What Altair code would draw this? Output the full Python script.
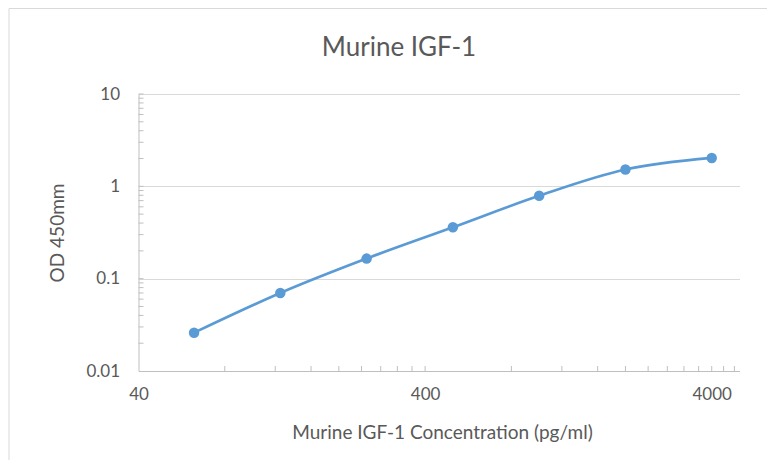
import altair as alt
import pandas as pd

# Data
conc = [62.5, 125, 250, 500, 1000, 2000, 4000]
od = [0.026, 0.070, 0.165, 0.36, 0.79, 1.52, 2.03]

x_major = [40, 400, 4000]
y_major = [0.01, 0.1, 1, 10]
x_minor = [80, 120, 160, 200, 240, 280, 320, 360, 400,
           800, 1200, 1600, 2000, 2400, 2800, 3200, 3600, 4000, 4400, 4800]
y_minor = [0.02, 0.03, 0.04, 0.05, 0.06, 0.07, 0.08, 0.09, 0.1,
           0.2, 0.3, 0.4, 0.5, 0.6, 0.7, 0.8, 0.9, 1,
           2, 3, 4, 5, 6, 7, 8, 9, 10]

BLUE = "#5B9BD5"
GREY_TXT = "#595959"
AXIS_C = "#bfbfbf"
GRID_C = "#d9d9d9"
FONT = "Lato"

W, H = 601, 277

df = pd.DataFrame({"conc": conc, "od": od})
xscale = alt.Scale(type="log", domain=[40, 5000], nice=False)
yscale = alt.Scale(type="log", domain=[0.01, 10], nice=False)

x_axis = alt.Axis(values=x_major, format="~g", grid=False, ticks=False,
                  domainColor=AXIS_C, labelColor=GREY_TXT, labelFontSize=17,
                  labelFont=FONT, labelPadding=15, labelFlush=False,
                  title="Murine IGF-1 Concentration (pg/ml)", titleFont=FONT,
                  titleFontSize=19, titleFontWeight="normal", titleColor=GREY_TXT,
                  titleX=W / 2 + 3, titleY=67, titleBaseline="alphabetic",
                  titleAlign="center")
y_axis = alt.Axis(values=y_major, format="~g", grid=True, gridColor=GRID_C,
                  ticks=False, domainColor=AXIS_C, labelColor=GREY_TXT,
                  labelFontSize=17, labelFont=FONT, labelPadding=19,
                  title="OD 450mm", titleFont=FONT, titleFontSize=19,
                  titleFontWeight="normal", titleColor=GREY_TXT,
                  titleX=-81.5, titleY=H / 2, titleAngle=270,
                  titleBaseline="middle", titleAlign="center")

X = alt.X("conc:Q", scale=xscale, axis=x_axis, title="Murine IGF-1 Concentration (pg/ml)")
Y = alt.Y("od:Q", scale=yscale, axis=y_axis, title="OD 450mm")

base = alt.Chart(df)
line = base.mark_line(interpolate="monotone", color=BLUE, strokeWidth=2.7).encode(x=X, y=Y)
pts = base.mark_circle(size=110, color=BLUE, opacity=1).encode(x=X, y=Y)

yt = alt.Chart(pd.DataFrame({"od": y_minor})).mark_rule(color=AXIS_C, strokeWidth=1).encode(
    y=Y, x=alt.value(0), x2=alt.value(5))
xt = alt.Chart(pd.DataFrame({"conc": x_minor})).mark_rule(color=AXIS_C, strokeWidth=1).encode(
    x=X, y=alt.value(H), y2=alt.value(H - 5))

border = alt.Chart(pd.DataFrame({"a": [0]})).mark_rect(
    fill="transparent", stroke=GRID_C, strokeWidth=1
).encode(x=alt.value(-129.5), x2=alt.value(800), y=alt.value(-85.5), y2=alt.value(600))

chart = alt.layer(line, yt, xt, pts, border).properties(
    width=W, height=H,
    title=alt.TitleParams("Murine IGF-1", font=FONT, fontSize=26, fontWeight="normal",
                          color=GREY_TXT, anchor="middle", frame="group",
                          baseline="alphabetic", offset=38, dx=-40, dy=112),
    autosize=alt.AutoSizeParams(type="none"),
    padding={"left": 130.5, "top": 86, "right": 27, "bottom": 89},
).configure(background="white").configure_view(stroke=None)

chart.save("out.html", embed_options={"renderer": "svg", "actions": False})
